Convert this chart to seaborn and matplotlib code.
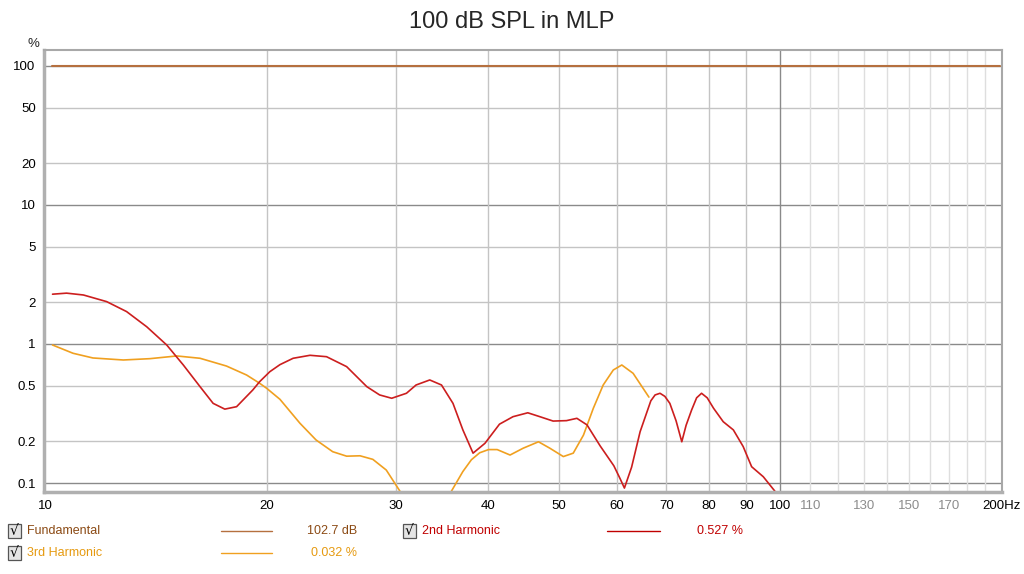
import numpy as np
import pandas as pd
import matplotlib
matplotlib.use("Agg")
import matplotlib.pyplot as plt
import seaborn as sns
from matplotlib.lines import Line2D
from matplotlib.patches import Rectangle

# ---------------- data ----------------
title = "100 dB SPL in MLP"

fund_freq = [10.2, 199.5]
fund_pct = [100.0, 100.0]

h2_freq = [10.22, 10.68, 11.26, 12.11, 12.89, 13.73, 14.62, 15.4, 16.23, 16.91, 17.54, 18.2,
           19.15, 19.56, 20.2, 20.85, 21.73, 22.91, 24.13, 25.7, 27.38, 28.5, 29.6, 31.0,
           31.95, 33.35, 34.6, 35.87, 37.0, 38.2, 39.65, 41.5, 43.3, 45.35, 47.1, 49.1,
           51.2, 52.9, 54.6, 56.9, 59.4, 60.55, 61.4, 62.8, 64.5, 66.7, 67.6, 68.65, 69.7,
           70.8, 72.2, 73.5, 74.5, 75.8, 77.0, 78.2, 79.6, 81.2, 83.7, 86.4, 89.1, 91.5,
           94.9, 98.4]
h2_pct = [2.28, 2.32, 2.25, 2.016, 1.71, 1.33, 0.983, 0.706, 0.493, 0.374, 0.34, 0.354,
          0.467, 0.535, 0.632, 0.71, 0.789, 0.829, 0.81, 0.687, 0.493, 0.43, 0.407, 0.442,
          0.507, 0.551, 0.507, 0.374, 0.241, 0.164, 0.193, 0.265, 0.30, 0.32, 0.30, 0.279,
          0.281, 0.292, 0.262, 0.185, 0.133, 0.108, 0.092, 0.13, 0.234, 0.39, 0.43, 0.442, 0.42,
          0.374, 0.28, 0.198, 0.26, 0.335, 0.41, 0.442, 0.41, 0.345, 0.276, 0.241, 0.183, 0.131,
          0.111, 0.0875]

h3_freq = [10.22, 10.9, 11.6, 12.76, 13.87, 15.09, 16.23, 17.63, 18.78, 19.56, 20.0, 20.85,
           22.2, 23.35, 24.6, 25.7, 26.8, 27.9, 29.1, 30.37]
h3_pct = [0.983, 0.857, 0.793, 0.767, 0.784, 0.82, 0.789, 0.694, 0.598, 0.522, 0.48, 0.40,
          0.269, 0.204, 0.168, 0.156, 0.157, 0.148, 0.124, 0.0875]
h3b_freq = [35.7, 37.0, 38.0, 39.0, 40.1, 41.2, 42.9, 44.7, 46.9, 48.6, 50.7, 52.3, 54.0,
            55.7, 57.45, 59.3, 60.9, 63.1, 66.3]
h3b_pct = [0.0875, 0.121, 0.147, 0.165, 0.174, 0.174, 0.159, 0.178, 0.198, 0.178, 0.155,
           0.164, 0.221, 0.345, 0.507, 0.65, 0.706, 0.615, 0.415]

x_ticks = [10, 20, 30, 40, 50, 60, 70, 80, 90, 100, 110, 130, 150, 170, 200]
x_labels = ["10", "20", "30", "40", "50", "60", "70", "80", "90", "100", "110", "130", "150", "170", "200Hz"]
y_ticks = [0.1, 0.2, 0.5, 1, 2, 5, 10, 20, 50, 100]
y_labels = ["0.1", "0.2", "0.5", "1", "2", "5", "10", "20", "50", "100"]

legend_names = ["Fundamental", "2nd Harmonic", "3rd Harmonic"]
legend_values = ["102.7 dB", "0.527 %", "0.032 %"]

# ---------------- style ----------------
c_fund = "#b5703f"
c_fund_txt = "#8b4a14"
c_h2 = "#cc1e1e"
c_h2_txt = "#c00000"
c_h3 = "#f0a020"
c_h3_txt = "#e69a10"

sns.set_style("white")
plt.rcParams["font.family"] = ["Liberation Sans", "DejaVu Sans"]

fig = plt.figure(figsize=(10.24, 5.74), dpi=100)
ax = fig.add_axes([44 / 1024, 1 - 492 / 574, (1002 - 44) / 1024, (492 - 50) / 574])

ax.set_xscale("log")
ax.set_yscale("log")
ax.set_xlim(9.95, 200.6)
ax.set_ylim(0.0862, 130)

# grid lines
for v in [0.2, 0.5, 2, 5, 20, 50]:
    ax.axhline(v, color="#c4c4c4", lw=1.0, zorder=0)
for v in [0.1, 1, 10, 100]:
    ax.axhline(v, color="#8a8a8a", lw=1.0, zorder=0)
for v in [20, 30, 40, 50, 60, 70, 80, 90]:
    ax.axvline(v, color="#c4c4c4", lw=1.0, zorder=0)
for v in range(110, 200, 10):
    ax.axvline(v, color="#dedede", lw=1.0, zorder=0)
ax.axvline(100, color="#8a8a8a", lw=1.0, zorder=0)

sns.lineplot(x=fund_freq, y=fund_pct, color=c_fund, lw=1.5, ax=ax, sort=False, estimator=None)
sns.lineplot(x=h3_freq, y=h3_pct, color=c_h3, lw=1.2, ax=ax, sort=False, estimator=None)
sns.lineplot(x=h3b_freq, y=h3b_pct, color=c_h3, lw=1.2, ax=ax, sort=False, estimator=None)
sns.lineplot(x=h2_freq, y=h2_pct, color=c_h2, lw=1.2, ax=ax, sort=False, estimator=None)

ax.set_xticks(x_ticks)
ax.set_xticklabels(x_labels)
ax.xaxis.set_minor_locator(matplotlib.ticker.NullLocator())
ax.set_yticks(y_ticks)
ax.set_yticklabels(y_labels)
ax.yaxis.set_minor_locator(matplotlib.ticker.NullLocator())
ax.tick_params(axis="both", length=0, labelsize=9.5, colors="#000000", pad=6)
for lbl, t in zip(ax.get_xticklabels(), x_ticks):
    if 100 < t < 200:
        lbl.set_color("#8c8c8c")

for name, s in ax.spines.items():
    s.set_color("#b0b0b0" if name in ("left", "bottom") else "#a8a8a8")
    s.set_linewidth(2.5 if name in ("left", "bottom") else 1.5)

fig.text(0.5, 1 - 22 / 574, title, ha="center", va="center", fontsize=17)
fig.text(33 / 1024, 1 - 50 / 574, "%", ha="center", va="bottom", fontsize=9.5)

# ---------------- custom legend ----------------
def legend_row(x0, y, name, val, tcol, lcol, line_x, val_x):
    yy = 1 - y / 574
    fig.patches.append(Rectangle((8 / 1024 + x0, yy - 7 / 574), 13 / 1024, 14 / 574,
                                 transform=fig.transFigure, facecolor="#e4e4e4",
                                 edgecolor="#555555", lw=0.9))
    fig.text(14.5 / 1024 + x0, yy, "\u221a", ha="center", va="center", fontsize=10,
             color="#000000", family=["DejaVu Sans"])
    fig.text(27 / 1024 + x0, yy, name, ha="left", va="center", fontsize=9, color=tcol)
    fig.lines.append(Line2D([line_x[0] / 1024, line_x[1] / 1024], [yy, yy],
                            transform=fig.transFigure, color=lcol, lw=1.0))
    fig.text(val_x / 1024, yy, val, ha="right", va="center", fontsize=9, color=tcol)

legend_row(0, 531, legend_names[0], legend_values[0], c_fund_txt, c_fund, (221, 272), 357)
legend_row(395 / 1024, 531, legend_names[1], legend_values[1], c_h2_txt, c_h2_txt, (607, 660), 743)
legend_row(0, 553, legend_names[2], legend_values[2], c_h3_txt, c_h3, (221, 272), 357)

fig.savefig("out.png", dpi=100, facecolor="white")
